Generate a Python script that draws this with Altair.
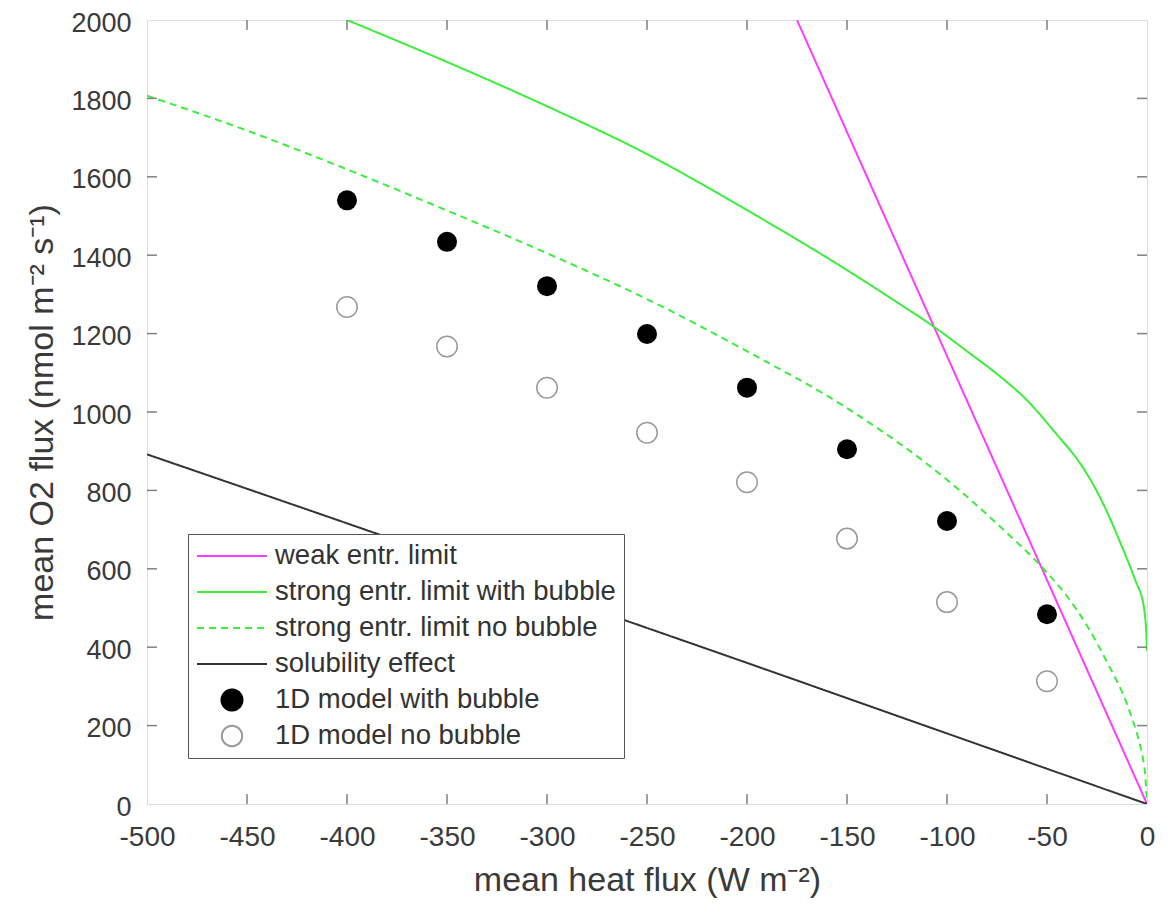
import altair as alt
import pandas as pd

# ---- data ----
weak_x = [-175, 0]
weak_y = [2000, 0]

strong_bub_x = [-400, -350, -300, -250, -200, -150, -125, -105, -90, -75, -60, -45, -35, -28,
                -20, -12, -8, -5, -3, -2, -1, -0.5, 0]
strong_bub_y = [2000, 1893, 1780, 1658, 1515, 1362, 1280, 1212, 1155, 1097, 1030, 942, 880, 825,
                745, 650, 600, 560, 535, 515, 480, 450, 390]

strong_nob_x = [-500, -450, -400, -350, -300, -250, -200, -150, -100, -75, -50, -40, -30, -20,
                -10, -7, -5, -3, -2, -1, 0]
strong_nob_y = [1807, 1718, 1619, 1514, 1405, 1288, 1155, 1010, 827, 715, 590, 530, 455, 362,
                255, 211, 180, 140, 115, 80, 0]

sol_x = [-500, -400, -300, -200, -100, 0]
sol_y = [892, 716, 538, 360, 180, 0]

model_x = [-400, -350, -300, -250, -200, -150, -100, -50]
bub_y = [1540, 1434, 1321, 1199, 1062, 905, 722, 484]
nobub_y = [1268, 1167, 1062, 947, 821, 677, 515, 313]

x_ticks = [-450, -400, -350, -300, -250, -200, -150, -100, -50]
y_ticks = [200, 400, 600, 800, 1000, 1200, 1400, 1600, 1800]
x_labels = [-500, -450, -400, -350, -300, -250, -200, -150, -100, -50, 0]
y_labels = [0, 200, 400, 600, 800, 1000, 1200, 1400, 1600, 1800, 2000]

series = ["weak entr. limit", "strong entr. limit with bubble", "strong entr. limit no bubble",
          "solubility effect", "1D model with bubble", "1D model no bubble"]
colors = ["#ff3cff", "#3cee3c", "#3cee3c", "#333333", "#000000", "#9a9a9a"]
dashes = [[1, 0], [1, 0], [7, 5], [1, 0], [1, 0], [1, 0]]

rows = []
for name, xs, ys in [(series[0], weak_x, weak_y), (series[1], strong_bub_x, strong_bub_y),
                     (series[2], strong_nob_x, strong_nob_y), (series[3], sol_x, sol_y)]:
    for a, b in zip(xs, ys):
        rows.append({"series": name, "x": a, "y": b})
lines_df = pd.DataFrame(rows)
bub_df = pd.DataFrame({"series": series[4], "x": model_x, "y": bub_y})
nob_df = pd.DataFrame({"series": series[5], "x": model_x, "y": nobub_y})
xt_df = pd.DataFrame({"x": x_ticks})
yt_df = pd.DataFrame({"y": y_ticks})

W, H = 1000, 784
FRAME = "#808080"
TXT = "#3a3a3a"
FONT = "Liberation Sans"

xscale = alt.Scale(domain=[-500, 0], nice=False, zero=False)
yscale = alt.Scale(domain=[0, 2000], nice=False, zero=False)
cscale = alt.Scale(domain=series, range=colors)
dscale = alt.Scale(domain=series, range=dashes)

circ = "M-0.3,0A0.3,0.3,0,1,0,0.3,0A0.3,0.3,0,1,0,-0.3,0Z"
ring = ("M-0.29,0A0.29,0.29,0,1,0,0.29,0A0.29,0.29,0,1,0,-0.29,0Z"
        "M-0.29,0A0.29,0.29,0,1,1,0.29,0A0.29,0.29,0,1,1,-0.29,0Z")
legend = alt.Legend(
    title=None, orient="none", legendX=41, legendY=514,
    padding=8, strokeColor="#555555", fillColor="white",
    labelFont=FONT, labelFontSize=27.5, labelColor="#333333",
    labelOffset=7, labelLimit=600, symbolSize=4900,
    symbolType={"expr": f"datum.value == '1D model with bubble' ? '{circ}' : "
                        f"datum.value == '1D model no bubble' ? '{ring}' : 'stroke'"},
    symbolDash={"expr": "datum.value == 'strong entr. limit no bubble' ? [7,5] : [1,0]"},
    symbolStrokeWidth=2, clipHeight=28, rowPadding=8, symbolOpacity=1,
)

xaxis = alt.Axis(title="mean heat flux (W m⁻²)", values=x_labels, ticks=False, domain=False,
                 grid=False, labelExpr="'' + datum.value", labelFont=FONT, labelFontSize=28,
                 labelColor=TXT, labelPadding=19, labelFlush=False, titleFont=FONT,
                 titleFontSize=34, titleFontWeight="normal", titleColor=TXT, titlePadding=12)
yaxis = alt.Axis(title="mean O2 flux (nmol m⁻² s⁻¹)", values=y_labels, ticks=False, domain=False,
                 grid=False, labelExpr="'' + datum.value", labelFont=FONT, labelFontSize=27,
                 labelColor=TXT, labelPadding=16, labelOffset=3, labelFlush=False,
                 titleFont=FONT, titleFontSize=34, titleFontWeight="normal", titleColor=TXT,
                 titlePadding=11)

X = alt.X("x:Q", scale=xscale, axis=xaxis)
Y = alt.Y("y:Q", scale=yscale, axis=yaxis)

line_layer = alt.Chart(lines_df).mark_line(strokeWidth=2, clip=True, interpolate="monotone").encode(
    x=X, y=Y,
    color=alt.Color("series:N", scale=cscale, legend=legend, sort=series),
    strokeDash=alt.StrokeDash("series:N", scale=dscale, legend=None),
    detail="series:N",
)
bub_layer = alt.Chart(bub_df).mark_circle(size=400, opacity=1).encode(
    x=X, y=Y,
    color=alt.Color("series:N", scale=cscale, legend=None),
)
nob_layer = alt.Chart(nob_df).mark_point(size=420, strokeWidth=1.5, filled=False, opacity=1).encode(
    x=X, y=Y,
    color=alt.Color("series:N", scale=cscale, legend=None),
)

tick_style = dict(color=FRAME, strokeWidth=1.5)
xt_bottom = alt.Chart(xt_df).mark_rule(**tick_style).encode(
    x=X, y=alt.value(H), y2=alt.value(H - 10))
xt_top = alt.Chart(xt_df).mark_rule(**tick_style).encode(
    x=X, y=alt.value(0), y2=alt.value(10))
yt_left = alt.Chart(yt_df).mark_rule(**tick_style).encode(
    y=Y, x=alt.value(0), x2=alt.value(10))
yt_right = alt.Chart(yt_df).mark_rule(**tick_style).encode(
    y=Y, x=alt.value(W), x2=alt.value(W - 10))

chart = alt.layer(
    line_layer, bub_layer, nob_layer, xt_bottom, xt_top, yt_left, yt_right
).properties(
    width=W, height=H,
    autosize=alt.AutoSizeParams(type="none"),
    padding={"left": 139, "top": 12, "right": 15, "bottom": 100},
).configure_view(
    stroke=FRAME, strokeWidth=1.5
).configure(background="white")

chart.save("out.html", embed_options={"renderer": "svg", "actions": False})
